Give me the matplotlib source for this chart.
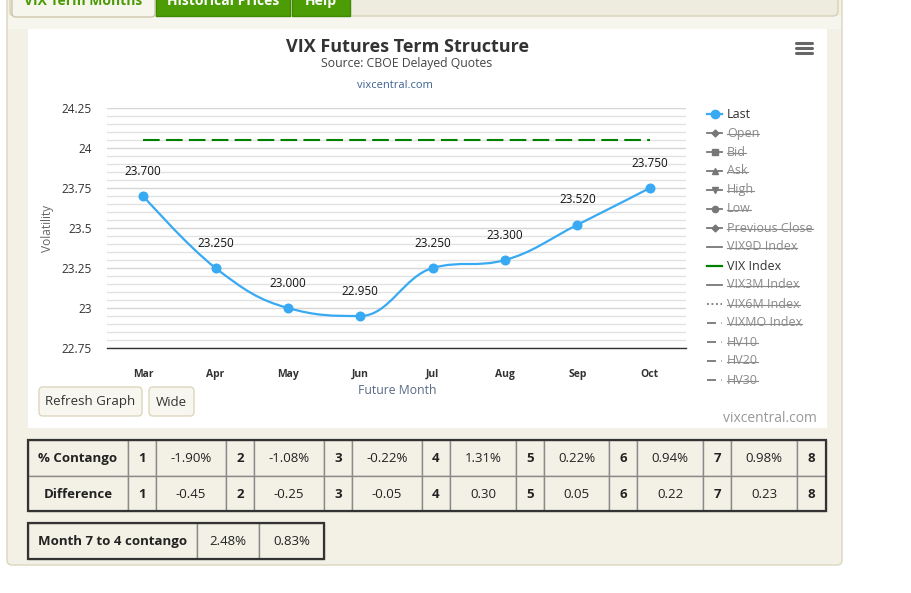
import numpy as np
import matplotlib
matplotlib.use("Agg")
import matplotlib.pyplot as plt
from matplotlib.patches import Rectangle, FancyBboxPatch, PathPatch
from matplotlib.path import Path
from matplotlib.ticker import FuncFormatter, MultipleLocator

plt.rcParams['font.family'] = ['Open Sans', 'DejaVu Sans']

# ---- data ----
months = ['Mar', 'Apr', 'May', 'Jun', 'Jul', 'Aug', 'Sep', 'Oct']
last = [23.700, 23.250, 23.000, 22.950, 23.250, 23.300, 23.520, 23.750]
vix_index = 24.05

legend_names = ['Last', 'Open', 'Bid', 'Ask', 'High', 'Low', 'Previous Close',
                'VIX9D Index', 'VIX Index', 'VIX3M Index', 'VIX6M Index',
                'VIXMO Index', 'HV10', 'HV20', 'HV30']
legend_visible = ['Last', 'VIX Index']

contango_pct = ['-1.90%', '-1.08%', '-0.22%', '1.31%', '0.22%', '0.94%', '0.98%']
difference = ['-0.45', '-0.25', '-0.05', '0.30', '0.05', '0.22', '0.23']
month7_to_4 = ['2.48%', '0.83%']

W, H = 911, 593
BLUE = '#38a9f3'
GREEN = '#008000'
CREAM = '#f3f1e5'


def px_axes(l, t, r, b):
    return [l / W, 1 - b / H, (r - l) / W, (b - t) / H]


def spline_path(xs, ys, smoothing=1.5):
    # Highcharts-style spline control points
    n = len(xs)
    left, right = [None] * n, [None] * n
    for i in range(n):
        x, y = xs[i], ys[i]
        if 0 < i < n - 1:
            lx, ly = xs[i - 1], ys[i - 1]
            nx, ny = xs[i + 1], ys[i + 1]
            d = smoothing + 1
            lcx, lcy = (smoothing * x + lx) / d, (smoothing * y + ly) / d
            rcx, rcy = (smoothing * x + nx) / d, (smoothing * y + ny) / d
            corr = (rcy - lcy) * (rcx - x) / (rcx - lcx) + y - rcy
            lcy += corr
            rcy += corr
            if lcy > ly and lcy > y:
                lcy = max(ly, y); rcy = 2 * y - lcy
            elif lcy < ly and lcy < y:
                lcy = min(ly, y); rcy = 2 * y - lcy
            if rcy > ny and rcy > y:
                rcy = max(ny, y); lcy = 2 * y - rcy
            elif rcy < ny and rcy < y:
                rcy = min(ny, y); lcy = 2 * y - rcy
            left[i], right[i] = (lcx, lcy), (rcx, rcy)
        else:
            left[i] = right[i] = (x, y)
    verts = [(xs[0], ys[0])]
    codes = [Path.MOVETO]
    for i in range(1, n):
        verts += [right[i - 1], left[i], (xs[i], ys[i])]
        codes += [Path.CURVE4] * 3
    return Path(verts, codes)


fig = plt.figure(figsize=(W / 100, H / 100), dpi=100)
fig.patch.set_facecolor('white')

# background page in pixel coordinates
bg = fig.add_axes([0, 0, 1, 1])
bg.set_xlim(0, W)
bg.set_ylim(H, 0)
bg.axis('off')
bg.set_zorder(0)

bg.add_patch(FancyBboxPatch((7, -20), 835, 585, boxstyle='round,pad=0,rounding_size=5',
                            fc=CREAM, ec='#dcd6bd', lw=1))
bg.add_patch(Rectangle((8, 16), 833, 13, fc='#f7f6ee', ec='none'))
bg.add_patch(FancyBboxPatch((10, -20), 828, 36, boxstyle='round,pad=0,rounding_size=5',
                            fc='#eeebdf', ec='#d8d2b8', lw=1))
bg.add_patch(FancyBboxPatch((12, -20), 143, 37, boxstyle='round,pad=0,rounding_size=4',
                            fc='#f7f6ed', ec='#cfc8ac', lw=1))
bg.text(83, 5, 'VIX Term Months', color='#4a9a05', fontsize=10, fontweight='bold',
        ha='center', va='baseline')
for x0, x1, lab in [(156, 290, 'Historical Prices'), (292, 350, 'Help')]:
    bg.add_patch(Rectangle((x0, -20), x1 - x0, 36, fc='#4c9c05', ec='#3f8a00', lw=1))
    bg.text((x0 + x1) / 2, 5, lab, color='white', fontsize=10, fontweight='bold',
            ha='center', va='baseline')

# white chart area
bg.add_patch(Rectangle((28, 29), 799, 399, fc='white', ec='none'))

bg.text(407, 47, 'VIX Futures Term Structure', fontsize=13, fontweight='bold',
        color='#333333', ha='center', va='center')
bg.text(407, 64, 'Source: CBOE Delayed Quotes', fontsize=8.8, color='#444444',
        ha='center', va='center')
bg.text(395, 85, 'vixcentral.com', fontsize=8, color='#3d6193', ha='center', va='center')
for yy in (43, 48, 53):
    bg.plot([796, 812], [yy, yy], color='#666666', lw=2.2, solid_capstyle='round')

bg.text(47, 228, 'Volatility', rotation=90, fontsize=8.6, color='#666666',
        ha='center', va='center')
bg.text(397, 390, 'Future Month', fontsize=8.8, color='#5a6a86', ha='center', va='center')
bg.text(817, 419, 'vixcentral.com', fontsize=10, color='#999999', ha='right', va='center')

# buttons
for x0, x1, lab in [(39, 142, 'Refresh Graph'), (149, 194, 'Wide')]:
    bg.add_patch(FancyBboxPatch((x0, 387), x1 - x0, 29, boxstyle='round,pad=0,rounding_size=4',
                                fc='#f8f7ef', ec='#ddd6bf', lw=1))
    bg.text((x0 + x1) / 2, 402, lab, fontsize=9.5, color='#333333', ha='center', va='center')

# legend
marker_map = {'Last': 'o', 'Open': 'D', 'Bid': 's', 'Ask': '^', 'High': 'v', 'Low': 'o',
              'Previous Close': 'D'}
style_map = {'VIX6M Index': (0, (1, 1.5)), 'VIXMO Index': (0, (5, 3, 1, 3)),
             'HV10': (0, (5, 3, 1, 3)), 'HV20': (0, (5, 3, 1, 3)), 'HV30': (0, (5, 3, 1, 3))}
fig.canvas.draw()
renderer = fig.canvas.get_renderer()
for k, name in enumerate(legend_names):
    y = 114 + 19 * k
    shown = name in legend_visible
    col = BLUE if name == 'Last' else (GREEN if name == 'VIX Index' else '#777777')
    ls = style_map.get(name, '-')
    bg.plot([707, 722], [y, y], color=col, lw=1.6 if shown else 1.3, linestyle=ls)
    if name in marker_map:
        ms = 6 if name in ('Last',) else 4.5
        if name in ('Open', 'Previous Close'):
            ms = 3.5
        bg.plot([714.5], [y], marker=marker_map[name], color=col, ms=ms, mec=col)
    t = bg.text(727, y, name, fontsize=9, color='#333333' if shown else '#8a8a8a',
                ha='left', va='center')
    if not shown:
        bb = t.get_window_extent(renderer)
        bg.plot([bb.x0, bb.x1], [y + 0.5, y + 0.5], color='#8a8a8a', lw=0.8)

# tables
def draw_table(bounds_x, bounds_y, rows, bold_cols):
    for r in range(len(bounds_y) - 1):
        for c in range(len(bounds_x) - 1):
            x0, x1 = bounds_x[c], bounds_x[c + 1]
            y0, y1 = bounds_y[r], bounds_y[r + 1]
            bg.add_patch(Rectangle((x0, y0), x1 - x0, y1 - y0, fc=CREAM, ec='#8a8a8a', lw=1))
            txt = rows[r][c]
            bg.text((x0 + x1) / 2, (y0 + y1) / 2 + 0.5, txt, fontsize=9.5, color='#222222',
                    fontweight='bold' if c in bold_cols(c) else 'normal',
                    ha='center', va='center')
    bg.add_patch(Rectangle((bounds_x[0], bounds_y[0]), bounds_x[-1] - bounds_x[0],
                           bounds_y[-1] - bounds_y[0], fc='none', ec='#333333', lw=1.6))


cols1 = [28, 128, 156, 226, 254, 324, 352, 422, 450, 516, 544, 609, 637, 703, 731, 797, 826]
row_c = ['% Contango']
row_d = ['Difference']
for k in range(7):
    row_c += [str(k + 1), contango_pct[k]]
    row_d += [str(k + 1), difference[k]]
row_c.append('8')
row_d.append('8')
draw_table(cols1, [440, 476, 511], [row_c, row_d],
           lambda c: [c] if (c == 0 or c % 2 == 1) else [])
draw_table([28, 197, 259, 324], [523, 559], [['Month 7 to 4 contango'] + month7_to_4],
           lambda c: [0])

# ---- chart ----
ax = fig.add_axes(px_axes(107, 108, 686, 348))
ax.set_zorder(2)
ax.patch.set_alpha(0)
x = np.arange(len(months))
ax.set_xlim(-0.5, len(months) - 0.5)
ax.set_ylim(22.75, 24.25)
ax.yaxis.set_major_locator(MultipleLocator(0.25))
ax.yaxis.set_minor_locator(MultipleLocator(0.05))
ax.yaxis.set_major_formatter(FuncFormatter(lambda v, p: '%g' % round(v, 2)))
ax.grid(which='minor', axis='y', color='#e2e2e2', lw=1)
ax.grid(which='major', axis='y', color='#d6d6d6', lw=1)
ax.set_axisbelow(True)
ax.set_xticks(x)
ax.set_xticklabels(months, fontsize=7.5, fontweight='bold', color='#333333')
ax.tick_params(axis='x', length=0, pad=15)
ax.tick_params(axis='y', which='both', length=0, pad=11, labelsize=8.6, labelcolor='#333333')
for s in ('top', 'right', 'left'):
    ax.spines[s].set_visible(False)
ax.spines['bottom'].set_color('#333333')
ax.spines['bottom'].set_linewidth(1)

ax.plot([x[0], x[-1]], [vix_index, vix_index], color=GREEN, lw=1.5, dashes=(8, 3),
        dash_capstyle='butt')
ax.add_patch(PathPatch(spline_path(list(x), last), fc='none', ec=BLUE, lw=1.6))
ax.plot(x, last, 'o', color=BLUE, ms=6.2, mec=BLUE)
for xi, v in zip(x, last):
    ax.annotate('%.3f' % v, (xi, v), xytext=(0, 18), textcoords='offset points',
                ha='center', va='center', fontsize=8.5, color='#111111')

fig.savefig('out.png', dpi=100)
